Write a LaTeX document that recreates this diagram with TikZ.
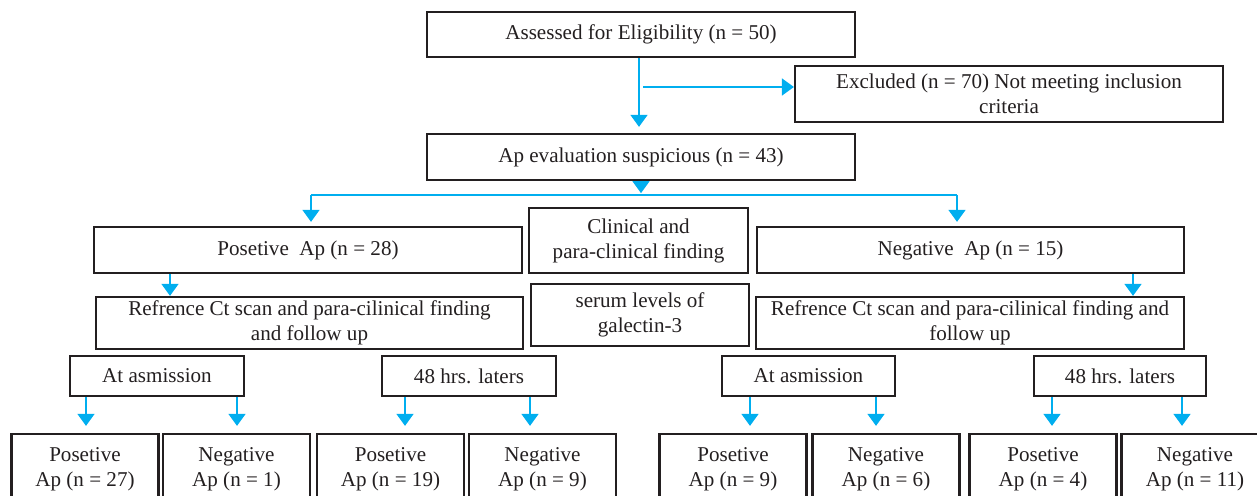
\documentclass[tikz,border=0pt]{standalone}
\usepackage{fontspec}
\setmainfont{Liberation Serif}
\usetikzlibrary{positioning,calc,arrows.meta}
\definecolor{flowcyan}{RGB}{0,174,239}
\definecolor{inkgray}{RGB}{35,31,32}

\begin{document}
\begin{tikzpicture}[x=0.02cm,y=-0.02cm,
    block/.style={draw=inkgray,line width=1.3pt,inner sep=0pt,align=center,text=inkgray,font=\fontsize{12}{14.2}\selectfont},
    flow/.style={draw=flowcyan,line width=0.85pt,-{Triangle[width=0.34cm,length=0.24cm]}},
    link/.style={draw=flowcyan,line width=0.85pt}]
        \useasboundingbox (0,0) rectangle (1257,496);
        % top of the chart
        \node[block,minimum width=8.56cm,minimum height=0.9cm] (elig) at (641,34.5) {Assessed for Eligibility (n = 50)};
        \node[block,minimum width=8.56cm,minimum height=1.12cm] (excl) at (1009,94) {Excluded (n = 70) Not meeting inclusion\\criteria};
        \node[block,minimum width=8.56cm,minimum height=0.92cm] (susp) at (641,157) {Ap evaluation suspicious (n = 43)};
        \draw[flow,shorten >=0.12cm] (elig.south -| 639,0) -- (susp.north -| 639,0);
        \coordinate (split) at (643,87);
        \draw[flow] (split) -- (split -| excl.west);
        % two branches
        \node[block,minimum width=8.56cm,minimum height=0.92cm] (pos) at (308,250) {Posetive~ Ap (n = 28)};
        \node[block,minimum width=8.54cm,minimum height=0.92cm] (neg) at (970.5,250) {Negative~ Ap (n = 15)};
        \node[block,minimum width=4.38cm,minimum height=1.3cm] (clin) at (638.5,240.5) {Clinical and\\para-clinical finding};
        \node[block,minimum width=4.36cm,minimum height=1.24cm] (serum) at (640,315) {serum levels of\\galectin-3};
        \node[block,minimum width=8.54cm,minimum height=1.04cm] (refL) at (309.5,323) {Refrence Ct scan and para-cilinical finding\\and follow up};
        \node[block,minimum width=8.56cm,minimum height=1.04cm] (refR) at (970,323) {Refrence Ct scan and para-cilinical finding and\\follow up};
        \draw[flow] (susp.south) -- ++(0,12);
        \coordinate (bl) at (311,195);
        \coordinate (br) at (957,195);
        \draw[link] (bl) -- (br);
        \draw[flow,shorten >=0.08cm] (bl) -- (bl |- pos.north);
        \draw[flow,shorten >=0.08cm] (br) -- (br |- neg.north);
        \draw[flow] (pos.south -| 170,0) -- (refL.north -| 170,0);
        \draw[flow] (neg.south -| 1133,0) -- (refR.north -| 1133,0);
        % times of measurement
        \node[block,minimum width=3.48cm,minimum height=0.8cm] (admL) at (157,376) {At asmission};
        \node[block,minimum width=3.48cm,minimum height=0.8cm] (latL) at (469,376) {48 hrs. laters};
        \node[block,minimum width=3.46cm,minimum height=0.8cm] (admR) at (808.5,376) {At asmission};
        \node[block,minimum width=3.44cm,minimum height=0.8cm] (latR) at (1120,376) {48 hrs. laters};
        % results
        \foreach \name/\xc/\kind/\num in {b1/85/Posetive/27, b2/236.5/Negative/1, b3/390.5/Posetive/19, b4/542.5/Negative/9,
            b5/733/Posetive/9, b6/886/Negative/6, b7/1043/Posetive/4, b8/1195/Negative/11}
            \node[block,minimum width=2.94cm,minimum height=1.42cm] (\name) at (\xc,469.5) {\kind\\Ap (n = \num)};
        \foreach \src/\dst/\xa in {admL/b1/86, admL/b2/237, latL/b3/405, latL/b4/530,
            admR/b5/750, admR/b6/876, latR/b7/1052, latR/b8/1182}
            \draw[flow,shorten >=0.14cm] (\src.south -| \xa,0) -- (\dst.north -| \xa,0);
\end{tikzpicture}
\end{document}
